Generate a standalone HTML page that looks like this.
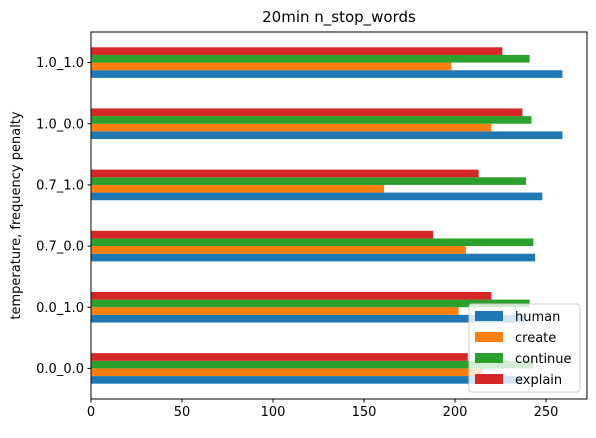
<!DOCTYPE html>
<html><head><meta charset="utf-8"><style>
body{margin:0;background:#fff;font-family:"Liberation Sans","DejaVu Sans",sans-serif;}
</style></head><body>
<svg width="596" height="433" xmlns="http://www.w3.org/2000/svg" font-family="DejaVu Sans, Liberation Sans, sans-serif">
<g id="plot"></g>
</svg>
<script>
const categories=["0.0_0.0","0.0_1.0","0.7_0.0","0.7_1.0","1.0_0.0","1.0_1.0"];
const seriesNames=["human","create","continue","explain"];
const human=[237,238,244,248,259,259];
const create=[215,202,206,161,220,198];
const cont=[243,241,243,239,242,241];
const explain=[207,220,188,213,237,226];
const xTicks=[0,50,100,150,200,250];
const colors=["#1f77b4","#ff7f0e","#2ca02c","#d62728"];
const series=[human,create,cont,explain];
const L=91,R=587,T=32,B=399,xmax=272.5;
const ns="http://www.w3.org/2000/svg";
const svg=document.querySelector("svg");
const x=v=>L+v/xmax*(R-L);
const step=(B-T)/categories.length;
const yc=i=>B-step*(i+0.5);
function mk(t,a,p){const e=document.createElementNS(ns,t);for(const k in a)e.setAttribute(k,a[k]);(p||svg).appendChild(e);return e;}
const bh=step*0.5/4;
categories.forEach((c,i)=>{
 series.forEach((s,j)=>{
  const y0=yc(i)+step*0.25-bh*(j+1);
  const r=mk("rect",{x:L,y:y0,width:x(s[i])-L,height:bh,fill:colors[j]});
  
  
 });
 mk("line",{x1:L-3.5,x2:L,y1:yc(i),y2:yc(i),stroke:"#000"});
 const t=mk("text",{x:L-7,y:yc(i)+4.5,"text-anchor":"end","font-size":"13"});
 t.textContent=c;
 
 
});
xTicks.forEach(v=>{
 mk("line",{x1:x(v),x2:x(v),y1:B,y2:B+3.5,stroke:"#000"});
 const t=mk("text",{x:x(v),y:B+17,"text-anchor":"middle","font-size":"13"});
 t.textContent=v;
 
 
});
const fr=mk("rect",{x:L,y:T,width:R-L,height:B-T,fill:"none",stroke:"#000","stroke-width":"1"});


const ti=mk("text",{x:(L+R)/2,y:22,"text-anchor":"middle","font-size":"15"});
ti.textContent="20min n_stop_words";


const yl=mk("text",{x:0,y:0,transform:"translate(20,"+((T+B)/2)+") rotate(-90)","text-anchor":"middle","font-size":"13"});
yl.textContent="temperature, frequency penalty";


const lg=mk("g",{});


mk("rect",{x:469,y:304,width:111,height:88,rx:3,fill:"rgba(255,255,255,0.8)",stroke:"#ccc"},lg);
seriesNames.forEach((n,j)=>{
 const yy=311+j*21;
 mk("rect",{x:475,y:yy,width:28,height:10,fill:colors[j]},lg);
 const t=mk("text",{x:515,y:yy+10,"font-size":"13"},lg);
 t.textContent=n;
 
 
});
</script>
</body></html>
